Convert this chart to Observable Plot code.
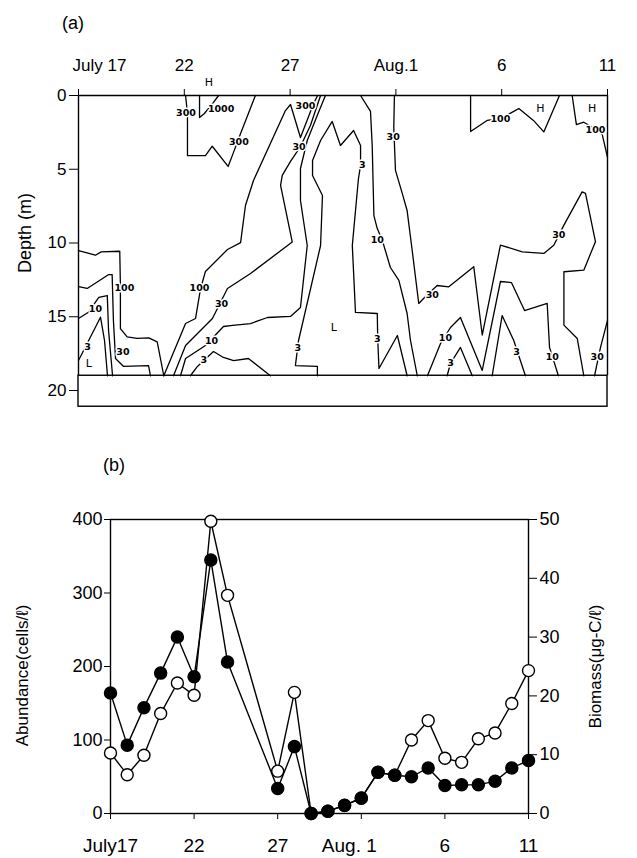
<!DOCTYPE html>
<html>
<head>
<meta charset="utf-8">
<script src="https://cdn.jsdelivr.net/npm/d3@7"></script>
<script src="https://cdn.jsdelivr.net/npm/@observablehq/plot@0.6"></script>
<style>
  html, body { margin: 0; padding: 0; background: #fff; }
  #fig { position: relative; width: 637px; height: 858px; background: #fff; font-family: "Liberation Sans", Arial, sans-serif; color: #000; }
  #fig svg { position: absolute; left: 0; z-index: 1; }
  .panel { position: absolute; font-size: 18px; z-index: 2; line-height: 1; }
</style>
</head>
<body>
<div id="fig">
  <div class="panel" style="left:62px; top:14px;">(a)</div>
  <div class="panel" style="left:103px; top:456px;">(b)</div>
</div>
<script>
// ---------- Panel (a): isopleths, day number from July 17 vs depth (m) ----------
const topTickDays = [0, 5, 10, 15, 20, 25];
const topTickLabels = ["July 17", "22", "27", "Aug.1", "6", "11"];
const depthTicks = [0, 5, 10, 15, 20];
const stationDepth = 19;
const sedimentBase = 21.1;
const lastDay = 25;

// contour polylines [day, depth]
const c1000a = [[5.72,0],[5.72,1.49],[5.95,1.22],[6.38,0.47],[6.62,0]];
const c300a = [[5.06,0],[5.15,1.22],[5.15,4.07],[6.0,4.07],[6.32,3.44],[7.07,4.81],[7.33,3.84],[7.66,2.58],[8.36,0]];
const c100a = [[0,10.51],[0.80,10.83],[1.07,10.60],[1.95,10.56],[1.98,12.86],[1.98,15.80],[2.30,16.36],[2.77,16.47],[3.32,16.43],[3.72,16.70],[4.03,19]];
const c100b = [[4.03,19],[5.06,15.46],[5.53,15.12],[5.77,13.08],[6.0,11.93],[7.04,10.44],[7.66,9.97],[7.89,7.46],[8.27,5.76],[9.78,1.02],[10.02,0.61],[10.49,2.85],[11.11,0.54],[11.3,0]];
const c100c = [[18.53,0],[18.53,2.44],[19.31,1.69],[19.94,1.56],[20.57,1.08],[20.81,0.88],[21.50,1.69],[21.99,2.47],[22.73,0]];
const c100d = [[23.33,0],[23.53,1.97],[23.88,1.81],[24.43,2.27],[24.75,2.64],[25.0,4.2]];
const c30a = [[0,12.95],[0.41,13.08],[1.43,12.14],[1.59,12.14],[1.65,15.25],[1.75,17.83],[2.13,18.37],[3.31,18.31],[3.40,19]];
const c30b = [[4.49,19],[5.06,16.95],[6.33,15.12],[7.04,13.08],[8.13,12.07],[10.10,9.93],[9.55,6.10],[9.63,5.42],[10.02,4.47],[10.49,3.46],[10.96,2.03],[11.44,0]];
const c30c = [[14.93,0],[14.90,2.17],[14.98,5.08],[15.30,6.64],[15.53,7.80],[15.77,10.51],[16.08,14.10],[16.40,13.63],[16.95,12.88],[17.50,12.97],[18.68,11.61],[19.08,16.24],[19.94,10.14],[20.97,10.60],[21.99,10.71],[22.46,10.15],[22.94,8.79],[23.80,6.53],[23.96,6.64],[24.43,9.91],[23.88,11.84],[22.94,11.95],[22.94,15.57],[23.57,16.47],[23.88,19]];
const c30d = [[24.39,19],[24.48,18.37],[24.67,17.08],[25.0,15.25]];
const c10a = [[0,15.12],[0.47,14.69],[0.96,13.69],[1.36,13.56],[1.42,15.93],[1.61,19]];
const c10b = [[4.82,19],[5.06,17.83],[6.0,16.95],[6.85,15.66],[7.28,15.59],[8.13,15.46],[8.93,15.05],[10.02,14.98],[10.49,14.37],[10.81,10.17],[10.49,7.12],[10.49,4.95],[10.81,3.05],[11.34,1.15],[11.67,0]];
const c10c = [[13.33,0],[13.80,1.08],[13.88,3.39],[13.96,8.14],[14.12,9.02],[14.36,9.83],[14.74,11.66],[15.14,12.54],[15.53,14.78],[15.69,16.61],[16.01,19]];
const c10d = [[16.49,19],[17.11,16.81],[17.58,15.73],[18.05,15.05],[19.08,18.64],[19.94,12.61],[20.46,12.68],[21.08,14.58],[22.15,14.10],[22.26,17.08],[22.68,19]];
const c3a = [[0,17.97],[1.04,15.03],[1.23,16.61],[1.37,19]];
const c3b = [[5.29,19],[5.62,18.37],[6.38,17.36],[6.85,17.76],[7.33,17.97],[8.03,17.83],[9.07,19]];
const c3c = [[11.29,19],[11.29,18.37],[10.25,18.31],[10.40,16.61],[11.44,10.17],[11.53,6.78],[11.06,5.42],[11.06,4.41],[11.44,3.05],[11.99,1.76],[12.38,3.39],[13.00,2.37],[13.33,3.39],[13.33,4.75],[13.23,5.63],[12.94,10.17],[13.09,14.71],[14.12,14.78],[14.14,16.47],[14.20,18.51],[15.07,16.27],[15.53,19]];
const c3d = [[17.42,19],[17.58,18.17],[18.05,17.08],[18.61,19]];
const c3e = [[19.55,19],[20.02,14.92],[20.57,16.61],[21.12,19]];

const contourLabelDays   = [6.74,5.08,7.58,10.73,10.42,13.41,14.87,14.12,2.17,0.80,0.43,2.10,5.72,6.76,6.29,5.92,10.36,14.12,16.72,17.34,17.58,20.70,22.39,22.70,24.51,19.94,24.43];
const contourLabelDepths = [0.9,1.2,3.17,0.68,3.5,4.73,2.83,9.81,13.04,14.44,17.05,17.38,13.08,14.10,16.66,17.95,17.1,16.5,13.54,16.47,18.15,17.38,17.74,9.47,17.72,1.58,2.31];
const contourLabelTexts  = ["1000","300","300","300","30","3","30","10","100","10","3","30","100","30","10","3","3","3","30","10","3","3","10","30","30","100","100"];

const extremaDays   = [6.16, 21.83, 24.28, 0.49, 12.07];
const extremaDepths = [-0.9, 0.9, 0.9, 18.15, 15.75];
const extremaTexts  = ["H", "H", "H", "L", "L"];

// ---------- Panel (b): abundance and biomass ----------
const bottomTickLabels = ["July17", "22", "27", "Aug. 1", "6", "11"];
const abundanceTicks = [0, 100, 200, 300, 400];
const biomassTicks = [0, 10, 20, 30, 40, 50];
const sampleDays = [0,1,2,3,4,5,6,7,10,11,12,13,14,15,16,17,18,19,20,21,22,23,24,25];
const abundance  = [164,93,144,191,240,186,345,206,34,91,0,3,11,21,56,52,50,62,38,39,39,44,62,72];
const biomass    = [10.3,6.6,9.9,17.0,22.2,20.1,49.7,37.1,7.2,20.6,0,0.4,1.4,2.6,7.0,6.5,12.5,15.8,9.4,8.7,12.7,13.7,18.7,24.3];

// ---------- build tables ----------
const contourSets = [c1000a,c300a,c100a,c100b,c100c,c100d,c30a,c30b,c30c,c30d,c10a,c10b,c10c,c10d,c3a,c3b,c3c,c3d,c3e];
const contourRows = contourSets.flatMap((pts, id) => pts.map(([day, depth]) => ({id, day, depth})));
const contourLabels = contourLabelTexts.map((t, i) => ({day: contourLabelDays[i], depth: contourLabelDepths[i], text: t}));
const extrema = extremaTexts.map((t, i) => ({day: extremaDays[i], depth: extremaDepths[i], text: t}));
const sediment = [{x1: 0, x2: lastDay, y1: stationDepth, y2: sedimentBase}];
const fontFam = "'Liberation Sans', Arial, sans-serif";
const labelOf = (ticks, labels) => d => labels[ticks.indexOf(d)];

const plotA = Plot.plot({
  width: 637, height: 420,
  marginTop: 95, marginBottom: 30, marginLeft: 78, marginRight: 30,
  x: {domain: [0, lastDay]},
  y: {domain: [0, 20], reverse: true},
  style: {fontFamily: fontFam, fontSize: "17px", background: "white", color: "black"},
  marks: [
    Plot.rect(sediment, {x1: "x1", x2: "x2", y1: "y1", y2: "y2", fill: "white", stroke: "black", strokeWidth: 1.4}),
    Plot.ruleX([0, lastDay], {y1: 0, y2: stationDepth, stroke: "black", strokeWidth: 1.4}),
    Plot.ruleY([0], {x1: 0, x2: lastDay, stroke: "black", strokeWidth: 1.4}),
    Plot.line(contourRows, {x: "day", y: "depth", z: "id", stroke: "black", strokeWidth: 1.3, curve: "linear"}),
    Plot.text(contourLabels, {x: "day", y: "depth", text: "text", fontSize: 9.5, fontWeight: "bold", fontFamily: "'DejaVu Sans', sans-serif", fill: "black", stroke: "white", strokeWidth: 3, paintOrder: "stroke"}),
    Plot.text(extrema, {x: "day", y: "depth", text: "text", fontSize: 11, fontFamily: "'DejaVu Sans', sans-serif", fill: "black"}),
    Plot.axisX(topTickDays, {anchor: "top", tickSize: 7, tickPadding: 18, fontSize: 17, label: null,
      tickFormat: d => d === topTickDays[0] ? "" : labelOf(topTickDays, topTickLabels)(d)}),
    Plot.axisX(topTickDays.slice(0, 1), {anchor: "top", tickSize: 0, tickPadding: 25, fontSize: 17, label: null,
      textAnchor: "start", dx: -6, tickFormat: labelOf(topTickDays, topTickLabels)}),
    Plot.axisY(depthTicks, {anchor: "left", tickSize: 9, tickPadding: 3, fontSize: 17, label: null}),
    Plot.text(["Depth (m)"], {text: d => d, frameAnchor: "left", textAnchor: "middle", rotate: -90, dx: -53, dy: -10, fontSize: 18})
  ]
});

const k = abundanceTicks[abundanceTicks.length - 1] / biomassTicks[biomassTicks.length - 1];
const rows = sampleDays.map((d, i) => ({day: d, abundance: abundance[i], biomass: biomass[i]}));
const augIndex = bottomTickLabels.indexOf("Aug. 1");

const plotB = Plot.plot({
  width: 637, height: 428,
  marginTop: 89, marginBottom: 45, marginLeft: 110, marginRight: 109,
  x: {domain: [0, lastDay]},
  y: {domain: [0, 400]},
  style: {fontFamily: fontFam, fontSize: "18px", background: "white", color: "black"},
  marks: [
    Plot.frame({stroke: "black", strokeWidth: 1.4}),
    Plot.axisX(topTickDays, {anchor: "bottom", tickSize: 6, tickPadding: 19, fontSize: 19, label: null,
      tickFormat: d => d === topTickDays[augIndex] ? "" : labelOf(topTickDays, bottomTickLabels)(d)}),
    Plot.axisX([topTickDays[augIndex]], {anchor: "bottom", tickSize: 0, tickPadding: 25, fontSize: 19, label: null,
      dx: -12, tickFormat: labelOf(topTickDays, bottomTickLabels)}),
    Plot.axisY(abundanceTicks, {anchor: "left", tickSize: 6, tickPadding: 2, fontSize: 18, label: null}),
    Plot.axisY(biomassTicks.map(v => v * k), {anchor: "right", tickSize: 8, tickPadding: 3, fontSize: 18, label: null,
      tickFormat: d => d / k}),
    Plot.line(rows, {x: "day", y: d => d.biomass * k, stroke: "black", strokeWidth: 1.4}),
    Plot.dot(rows, {x: "day", y: d => d.biomass * k, r: 6, fill: "white", stroke: "black", strokeWidth: 1.4}),
    Plot.line(rows, {x: "day", y: "abundance", stroke: "black", strokeWidth: 1.4}),
    Plot.dot(rows, {x: "day", y: "abundance", r: 6, fill: "black", stroke: "black"}),
    Plot.text(["Abundance(cells/ℓ)"], {text: d => d, frameAnchor: "left", textAnchor: "middle", rotate: -90, dx: -88, dy: 9, fontSize: 17, letterSpacing: "1.5px"}),
    Plot.text(["Biomass(μg-C/ℓ)"], {text: d => d, frameAnchor: "right", textAnchor: "middle", rotate: -90, dx: 67, dy: 0, fontSize: 17, letterSpacing: "1.8px"})
  ]
});

const fig = document.getElementById("fig");
plotA.style.top = "0px";
plotB.style.top = "430px";
fig.appendChild(plotA);
fig.appendChild(plotB);
</script>
</body>
</html>
